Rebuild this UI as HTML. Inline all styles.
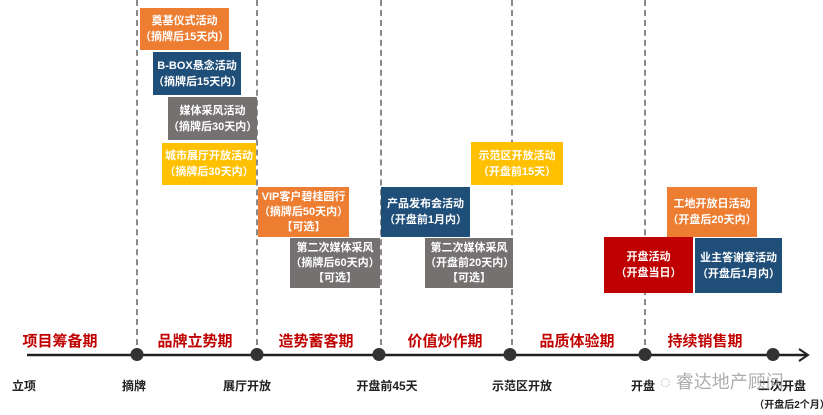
<!DOCTYPE html>
<html><head><meta charset="utf-8"><style>
body{margin:0;width:823px;height:415px;background:#fff;position:relative;overflow:hidden;font-family:"Liberation Sans","Noto Sans CJK SC",sans-serif}
.d{position:absolute;top:0;height:345px;border-left:2px dashed #8a8a8a;width:0}
.b{position:absolute;color:#fff;font-weight:bold;font-size:11px;line-height:16px;text-align:center;display:flex;flex-direction:column;justify-content:center;align-items:center}
.o{background:#ed7d31}.n{background:#1f4e79}.g{background:#757171}.y{background:#ffc000}.r{background:#c00000}
.p{position:absolute;top:330px;color:#c00000;font-weight:bold;font-size:15px;transform:translateX(-50%);white-space:nowrap}
.l{position:absolute;top:377px;color:#222;font-weight:bold;font-size:12px;transform:translateX(-50%);white-space:nowrap}
.dot{position:absolute;top:348px;width:13px;height:13px;border-radius:50%;background:#333;transform:translateX(-50%)}
</style></head><body>
<div class="d" style="left:136px"></div>
<div class="d" style="left:256px"></div>
<div class="d" style="left:380px"></div>
<div class="d" style="left:511px"></div>
<div class="d" style="left:644px"></div>

<div class="b o" style="left:140px;top:8px;width:89px;height:42px">奠基仪式活动<span>（摘牌后15天内）</span></div>
<div class="b n" style="left:153px;top:52px;width:88px;height:43px">B-BOX悬念活动<span>（摘牌后15天内）</span></div>
<div class="b g" style="left:168px;top:97px;width:89px;height:43px">媒体采风活动<span>（摘牌后30天内）</span></div>
<div class="b y" style="left:162px;top:143px;width:94px;height:42px">城市展厅开放活动<span>（摘牌后30天内）</span></div>
<div class="b o" style="left:258px;top:187px;width:91px;height:50px;line-height:15px">VIP客户碧桂园行<span>（摘牌后50天内）</span><span>【可选】</span></div>
<div class="b g" style="left:290px;top:238px;width:90px;height:50px;line-height:15px">第二次媒体采风<span>（摘牌后60天内）</span><span>【可选】</span></div>
<div class="b y" style="left:471px;top:142px;width:92px;height:43px">示范区开放活动<span>（开盘前15天）</span></div>
<div class="b n" style="left:381px;top:187px;width:89px;height:50px">产品发布会活动<span>（开盘前1月内）</span></div>
<div class="b g" style="left:425px;top:238px;width:88px;height:50px;line-height:15px">第二次媒体采风<span>（开盘前20天内）</span><span>【可选】</span></div>
<div class="b o" style="left:667px;top:187px;width:90px;height:50px">工地开放日活动<span>（开盘后20天内）</span></div>
<div class="b r" style="left:604px;top:237px;width:89px;height:56px">开盘活动<span>（开盘当日）</span></div>
<div class="b n" style="left:695px;top:238px;width:87px;height:55px">业主答谢宴活动<span>（开盘后1月内）</span></div>

<div class="p" style="left:60px">项目筹备期</div>
<div class="p" style="left:195px">品牌立势期</div>
<div class="p" style="left:316px">造势蓄客期</div>
<div class="p" style="left:445px">价值炒作期</div>
<div class="p" style="left:577px">品质体验期</div>
<div class="p" style="left:705px">持续销售期</div>

<svg style="position:absolute;left:0;top:0" width="823" height="415">
<line x1="27" y1="355" x2="806" y2="355" stroke="#222" stroke-width="2.5"/>
<polyline points="799,349 808,355 799,361" fill="none" stroke="#222" stroke-width="2"/>
</svg>
<div class="dot" style="left:137px"></div>
<div class="dot" style="left:257px"></div>
<div class="dot" style="left:379px"></div>
<div class="dot" style="left:510px"></div>
<div class="dot" style="left:645px"></div>
<div class="dot" style="left:773px"></div>

<div class="l" style="left:24px">立项</div>
<div class="l" style="left:134px">摘牌</div>
<div class="l" style="left:247px">展厅开放</div>
<div class="l" style="left:387px">开盘前45天</div>
<div class="l" style="left:522px">示范区开放</div>
<div class="l" style="left:643px">开盘</div>
<div class="l" style="left:782px">二次开盘</div>
<div class="l" style="left:792px;top:396px;font-size:10px">（开盘后2个月）</div>
<div style="position:absolute;left:660px;top:368px;color:#999;font-size:18px;opacity:.8">◌ 睿达地产顾问</div>
</body></html>
